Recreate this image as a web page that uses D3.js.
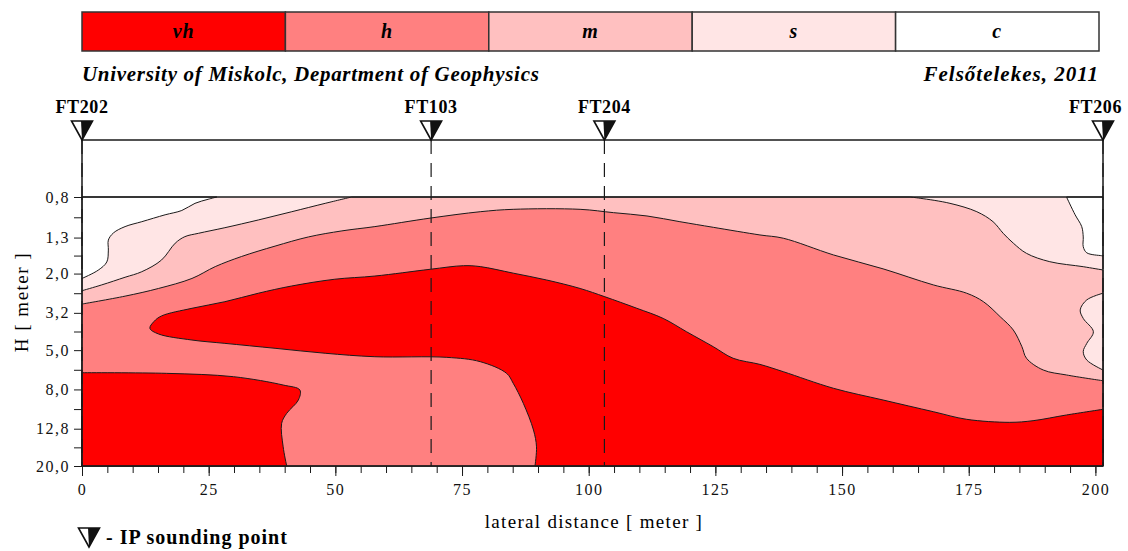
<!DOCTYPE html>
<html>
<head>
<meta charset="utf-8">
<script src="https://cdn.jsdelivr.net/npm/d3@7"></script>
<style>
body{margin:0;background:#fff;}
svg{display:block;font-family:"Liberation Serif","Times New Roman",serif;}
</style>
</head>
<body>
<div id="chart"></div>
<script>
// legend classes
var classes = ['vh', 'h', 'm', 's', 'c'];
var classColors = ['#ff0000', '#ff8080', '#ffc0c0', '#ffe5e5', '#ffffff'];

// sounding points [ meter ]
var soundingNames = ['FT202', 'FT103', 'FT204', 'FT206'];
var soundingDist = [0, 68.9, 103.1, 201.5];

var xTicks = [0, 25, 50, 75, 100, 125, 150, 175, 200];
var depthTicks = [0.8, 1.3, 2.0, 3.2, 5.0, 8.0, 12.8, 20.0];

// contour boundaries: [distance, depth]
var cLeftLine = [[0,2.12],[3.2,1.92],[4.9,1.74],[5.2,1.51],[5.2,1.34],[6.2,1.23],[8.5,1.14],[11.8,1.075],[16.4,0.99],[19.7,0.94],[22.3,0.863],[24.9,0.822],[26.6,0.8]];
var cRightLine = [[194.3,0.8],[196.0,0.99],[197.3,1.14],[197.6,1.29],[197.6,1.45],[198.3,1.56],[201.2,1.615],[201.5,1.62]];
var smLeftLine = [[0,2.455],[3.9,2.29],[8.5,2.09],[11.8,1.956],[15.7,1.70],[18.4,1.39],[20.3,1.286],[23.0,1.235],[28.2,1.155],[34.8,1.053],[41.4,0.954],[48.0,0.863],[53.2,0.8]];
var smRightLine = [[163.4,0.8],[165.4,0.812],[171.3,0.863],[176.6,0.954],[179.8,1.075],[181.8,1.235],[183.8,1.39],[186.4,1.57],[191.0,1.735],[197.6,1.842],[201.5,1.916]];
var sRightPatch = [[201.5,2.53],[198.3,2.74],[197.0,3.09],[197.6,3.42],[199.6,4.01],[198.3,4.61],[197.6,5.09],[198.3,5.63],[201.5,6.34]];
var mhLine = [[0,2.88],[8.5,2.62],[15.1,2.39],[21.7,2.12],[26.3,1.84],[31.5,1.63],[38.1,1.44],[44.7,1.29],[51.3,1.20],[57.8,1.14],[68.7,1.03],[78.6,0.954],[85.1,0.927],[98.3,0.927],[104.9,0.965],[111.5,1.004],[118.0,1.075],[124.6,1.15],[133.8,1.26],[138.4,1.31],[148.3,1.60],[158.1,1.89],[168.0,2.29],[174.6,2.53],[177.9,2.80],[181.2,3.35],[183.8,3.93],[185.5,4.80],[186.4,5.51],[189.7,6.34],[194.3,6.73],[201.5,7.21]];
var vhUpperLine = [[13.4,3.85],[14.2,3.55],[15.7,3.32],[21.7,3.03],[28.2,2.80],[34.8,2.53],[41.4,2.32],[49.9,2.14],[57.8,2.06],[68.7,1.90],[75.3,1.82],[78.6,1.84],[85.1,1.99],[91.7,2.16],[98.3,2.39],[103.2,2.64],[109.5,3.03],[114.7,3.42],[119.3,4.01],[124.6,4.80],[128.5,5.51],[133.8,5.93],[138.4,6.47],[148.3,7.89],[158.1,9.08],[168.0,10.44],[174.6,11.44],[183.1,11.86],[187.7,11.63],[194.3,10.86],[201.5,10.15]];
var vhLowerLine = [[15.1,4.12],[21.7,4.43],[28.2,4.61],[38.1,4.89],[48.0,5.19],[57.8,5.41],[72.0,5.45],[78.6,5.74],[83.8,6.60],[85.1,7.43],[87.1,9.45],[89.1,13.0],[89.7,15.9],[89.4,20]];
var vhLeftLine = [[0,6.55],[16.7,6.6],[29.9,6.87],[39.7,7.59],[43.0,8.06],[42.7,9.08],[40.4,10.65],[39.4,12.0],[39.7,15.9],[40.4,20]];

var W = 1128, H = 551;
var P = {l: 82, r: 1103, top: 140, t: 197, b: 466};
var ink = '#1a1a1a';

var svg = d3.select('#chart').append('svg')
	.attr('width', W)
	.attr('height', H);

svg.append('rect').attr('width', W).attr('height', H).attr('fill', '#fff');

var x = d3.scaleLinear().domain([0, 201.5]).range([P.l, P.r]);
var y = d3.scaleLog().domain([0.8, 20]).range([P.t, P.b]);
var color = d3.scaleOrdinal().domain(classes).range(classColors);

// ** ------- LEGEND ------- **
var band = d3.scaleBand().domain(classes).range([82, 1099]);

var legend = svg.append('g').attr('class', 'legend');
legend.selectAll('rect').data(classes).enter().append('rect')
	.attr('x', function(d) { return band(d); })
	.attr('y', 12)
	.attr('width', band.bandwidth())
	.attr('height', 39)
	.attr('fill', function(d) { return color(d); })
	.attr('stroke', '#333')
	.attr('stroke-width', 1.5);
legend.selectAll('text').data(classes).enter().append('text')
	.attr('x', function(d) { return band(d) + band.bandwidth() / 2; })
	.attr('y', 38)
	.attr('text-anchor', 'middle')
	.style('font-size', '20px')
	.style('font-weight', 'bold')
	.style('font-style', 'italic')
	.style('letter-spacing', '1px')
	.text(function(d) { return d; });

svg.append('text')
	.attr('x', 82).attr('y', 81)
	.style('font-size', '21px').style('font-weight', 'bold').style('font-style', 'italic')
	.style('letter-spacing', '0.7px')
	.text('University of Miskolc, Department of Geophysics');
svg.append('text')
	.attr('x', 1099).attr('y', 81)
	.attr('text-anchor', 'end')
	.style('font-size', '21px').style('font-weight', 'bold').style('font-style', 'italic')
	.style('letter-spacing', '1px')
	.text('Felsőtelekes, 2011');

// ** ------- CONTOURS ------- **
var curve = d3.line()
	.x(function(d) { return x(d[0]); })
	.y(function(d) { return y(d[1]); })
	.curve(d3.curveCatmullRom.alpha(0.5));

function region(parts, corners) {
	var p = parts.map(function(part, i) {
		var s = curve(part);
		return i ? 'L' + s.slice(1) : s;
	}).join('');
	corners.forEach(function(c) { p += 'L' + x(c[0]) + ',' + y(c[1]); });
	return p + 'Z';
}

var plot = svg.append('g').attr('class', 'contours');
plot.append('rect')
	.attr('x', x(0)).attr('y', y(0.8))
	.attr('width', x(201.5) - x(0)).attr('height', y(20) - y(0.8))
	.attr('fill', color('s'));

var regions = [
	{c: 'c', d: region([cLeftLine], [[0, 0.8]])},
	{c: 'c', d: region([cRightLine], [[201.5, 0.8]])},
	{c: 'm', d: region([smLeftLine, smRightLine], [[201.5, 20], [0, 20]])},
	{c: 's', d: region([sRightPatch], [])},
	{c: 'h', d: region([mhLine], [[201.5, 20], [0, 20]])},
	{c: 'vh', d: region([vhLowerLine.slice().reverse().concat(vhUpperLine)], [[201.5, 20]])},
	{c: 'vh', d: region([vhLeftLine], [[0, 20]])}
];

plot.selectAll('path').data(regions).enter().append('path')
	.attr('d', function(d) { return d.d; })
	.attr('fill', function(d) { return color(d.c); })
	.attr('stroke', ink)
	.attr('stroke-width', 1)
	.attr('stroke-linejoin', 'round');

// ** ------- AXES ------- **
svg.append('g')
	.attr('transform', 'translate(0,' + P.b + ')')
	.call(d3.axisBottom(x).tickValues(d3.range(0, 201, 5)).tickSize(7).tickFormat(''))
	.call(function(g) { g.select('.domain').remove(); });

var axisX = svg.append('g')
	.attr('transform', 'translate(0,' + P.b + ')')
	.call(d3.axisBottom(x).tickValues(xTicks).tickSize(10).tickPadding(8));
axisX.select('.domain').remove();

var minorDepth = depthTicks.slice(1).map(function(d, i) { return Math.sqrt(d * depthTicks[i]); });
svg.append('g')
	.attr('transform', 'translate(' + P.l + ',0)')
	.call(d3.axisLeft(y).tickValues(minorDepth).tickSize(8).tickFormat(''))
	.call(function(g) { g.select('.domain').remove(); });

var axisY = svg.append('g')
	.attr('transform', 'translate(' + P.l + ',0)')
	.call(d3.axisLeft(y).tickValues(depthTicks).tickSize(8).tickPadding(4)
		.tickFormat(function(d) { return d3.format('.1f')(d).replace('.', ','); }));
axisY.select('.domain').remove();

svg.selectAll('.tick line').attr('stroke', ink);
svg.selectAll('.tick text')
	.attr('fill', '#111')
	.style('font-size', '16px')
	.style('letter-spacing', '1.5px')
	.style('font-family', '"Liberation Serif","Times New Roman",serif');

// frame
var frame = svg.append('g').attr('class', 'frame')
	.attr('stroke', ink).attr('stroke-width', 1.5).attr('fill', 'none');
frame.append('rect')
	.attr('x', P.l).attr('y', P.top)
	.attr('width', P.r - P.l).attr('height', P.b - P.top);
frame.append('line')
	.attr('x1', P.l).attr('x2', P.r)
	.attr('y1', P.t).attr('y2', P.t);

// sounding points
var pts = svg.append('g').attr('class', 'soundings');
pts.selectAll('line').data(soundingDist).enter().append('line')
	.attr('x1', function(d) { return x(d); })
	.attr('x2', function(d) { return x(d); })
	.attr('y1', P.top).attr('y2', P.b)
	.attr('stroke', ink)
	.attr('stroke-width', 1.2)
	.attr('stroke-dasharray', '14,9');

function marker(g) {
	g.append('path')
		.attr('d', 'M-10.5,-19L10.5,-19L0,0Z')
		.attr('fill', '#fff').attr('stroke', '#111').attr('stroke-width', 1.6);
	g.append('path')
		.attr('d', 'M-1,-19L10.5,-19L0,0Z')
		.attr('fill', '#111');
}

soundingDist.forEach(function(d, i) {
	var g = pts.append('g').attr('transform', 'translate(' + x(d) + ',' + P.top + ')');
	marker(g);
	var t = pts.append('text')
		.attr('y', 113)
		.attr('text-anchor', 'middle')
		.style('font-size', '18px')
		.style('font-weight', 'bold')
		.style('letter-spacing', '0.6px')
		.text(soundingNames[i]);
	var w = t.node().getComputedTextLength();
	t.attr('x', Math.min(x(d), W - 6 - w / 2));
});

// axis titles
svg.append('text')
	.attr('x', 594).attr('y', 528)
	.attr('text-anchor', 'middle')
	.style('font-size', '19px')
	.style('letter-spacing', '1.3px')
	.text('lateral distance [ meter ]');

svg.append('text')
	.attr('transform', 'translate(28,302) rotate(-90)')
	.attr('text-anchor', 'middle')
	.style('font-size', '19px')
	.style('letter-spacing', '1.5px')
	.text('H [ meter ]');

// bottom note
var note = svg.append('g').attr('transform', 'translate(89,547)');
marker(note);
svg.append('text')
	.attr('x', 106).attr('y', 544)
	.style('font-size', '20px')
	.style('font-weight', 'bold')
	.style('letter-spacing', '1px')
	.text('- IP sounding point');
</script>
</body>
</html>
